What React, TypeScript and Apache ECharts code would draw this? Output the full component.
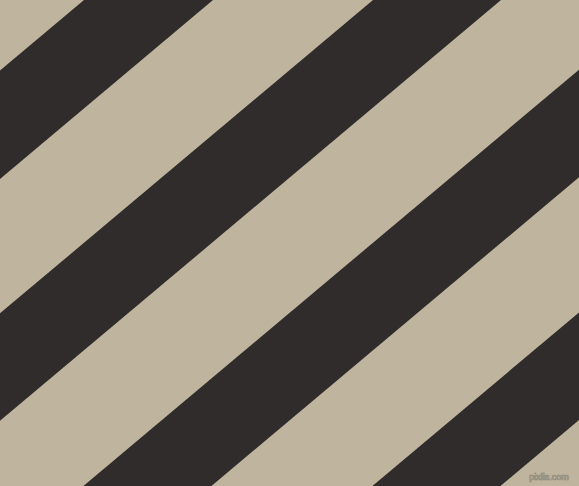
import React, { useEffect, useRef } from "react";
import * as echarts from "echarts";

// Dark stripes: x where each stripe's left/right edge meets the top edge (y = 0)
const stripeStarts = [-205, 84, 373, 662, 951];
const stripeEnds = [-76, 213, 501, 790, 1079];
const SLOPE = 0.84; // dy/dx of the stripe edges
const WIDTH = 579;
const HEIGHT = 486;
const watermark = "pixlis.com";

export default function App() {
  const ref = useRef<HTMLDivElement>(null);
  useEffect(() => {
    document.body.style.margin = "0";
    const chart = echarts.init(ref.current!, undefined, { renderer: "svg" });
    const data = stripeStarts.map((s, i) => [s, stripeEnds[i]]);
    chart.setOption({
      animation: false,
      backgroundColor: "#bfb49d",
      grid: { left: 0, right: 0, top: 0, bottom: 0 },
      xAxis: { type: "value", min: 0, max: WIDTH, show: false },
      yAxis: { type: "value", min: 0, max: HEIGHT, inverse: true, show: false },
      series: [
        {
          type: "custom",
          clip: true,
          data,
          renderItem: (params: any, api: any) => {
            const s = api.value(0);
            const e = api.value(1);
            const dx = HEIGHT / SLOPE;
            const pts = [
              api.coord([s, 0]),
              api.coord([e, 0]),
              api.coord([e - dx, HEIGHT]),
              api.coord([s - dx, HEIGHT]),
            ];
            return {
              type: "polygon",
              shape: { points: pts },
              style: { fill: "#302c2c" },
            };
          },
        },
      ],
      graphic: [
        {
          type: "text",
          right: 10,
          bottom: 4,
          style: {
            text: watermark,
            fontSize: 9,
            fontFamily: "Liberation Sans",
            fill: "#a39e90",
            stroke: "#77736a",
            lineWidth: 0.6,
          },
        },
      ],
    });
    return () => chart.dispose();
  }, []);
  return <div ref={ref} style={{ width: WIDTH, height: HEIGHT }} />;
}
